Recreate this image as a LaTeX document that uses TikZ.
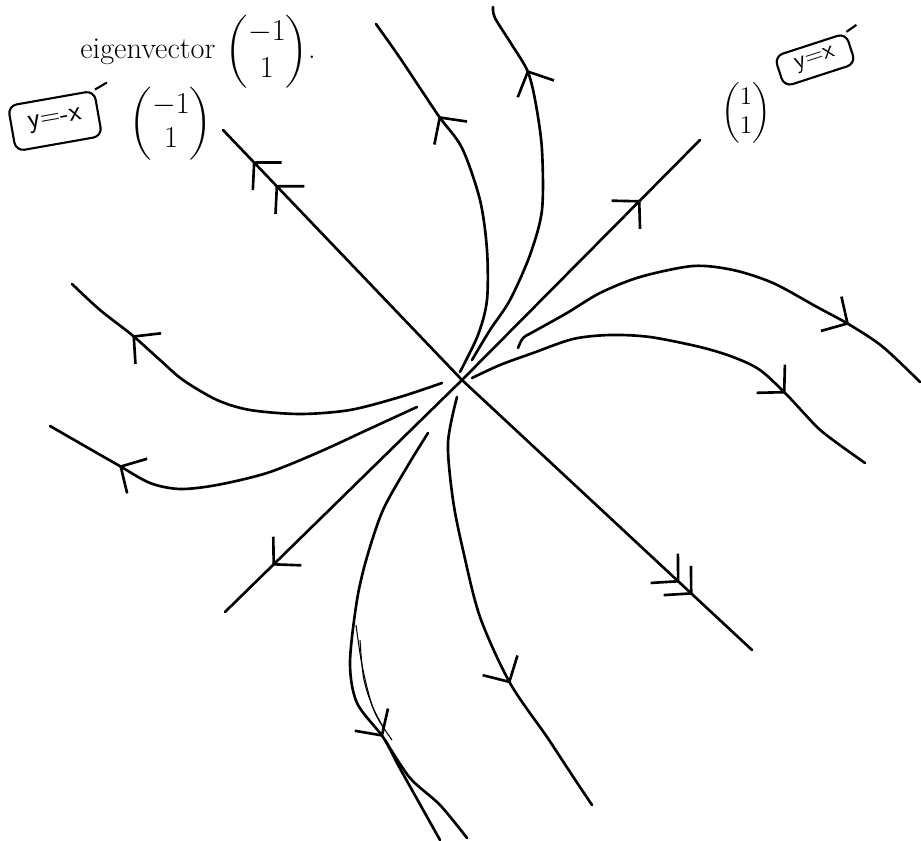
\documentclass[tikz,border=0pt]{standalone}
\usepackage{amsmath}
\usepackage{fontspec}
\usetikzlibrary{arrows.meta,decorations.markings}

\tikzset{barb/.tip={Straight Barb[length=3.8mm,width=8mm]}}

\begin{document}
\begin{tikzpicture}[x=0.02cm,y=-0.02cm,
  traj/.style={line width=1.5pt,line cap=round,line join=round},
  flow/.style={postaction=decorate,decoration={markings,
    mark=at position #1 with {\arrow{barb}}}},
  fastflow/.style 2 args={postaction=decorate,decoration={markings,
    mark=at position #1 with {\arrow{barb}},
    mark=at position #2 with {\arrow{barb}}}},
  tag/.style={draw,line width=1.2pt,rounded corners=5pt,inner sep=3pt,
    font=\sffamily\fontsize{16}{16}\selectfont},
  vec/.style={font=\fontsize{16}{19}\selectfont,inner sep=0pt}]

  \useasboundingbox (0,0) rectangle (921,841);

  \node[anchor=base west,inner sep=0pt,font=\fontsize{17.28}{21}\selectfont] (eig) at (80,59)
    {eigenvector\hspace{6pt}$\begin{pmatrix}-1\\1\end{pmatrix}$.};

  % eigenvector labels
  \node[tag,rotate=10,minimum width=1.75cm,minimum height=0.92cm] (negtag) at (55,121) {y=-x};
  \draw[line width=1.2pt] (negtag.north east) -- ++(12,-7);
  \node[vec] (negvec) at (171,124) {$\begin{pmatrix}-1\\1\end{pmatrix}$};
  \node[vec,font=\fontsize{14}{17}\selectfont] (posvec) at (746,113) {$\begin{pmatrix}1\\1\end{pmatrix}$};
  \node[tag,rotate=18,minimum width=1.5cm,minimum height=0.64cm,
    font=\sffamily\fontsize{14}{14}\selectfont] (postag) at (815,60) {y=x};
  \draw[line width=1.2pt] (postag.north east) -- ++(10,-7);

  \coordinate (O) at (462,380);

  % straight-line solutions
  \draw[traj,flow=0.75] (O) -- (700,140);
  \draw[traj,flow=0.8] (O) -- (225,612);
  \draw[traj,fastflow={0.78}{0.875}] (O) -- (223,130);
  \draw[traj,fastflow={0.75}{0.795}] (O) -- (752,650);

  % trajectories leaving the origin
  \draw[traj,flow=0.71] plot[smooth] coordinates {(460,372) (478,335) (487,300) (487,250)
    (480,200) (462,148) (438,115) (400,58) (376,24)};
  \draw[traj,flow=0.81] plot[smooth] coordinates {(472,360) (490,330) (510,300) (530,255)
    (542,210) (542,150) (536,105) (528,72) (512,45) (495,18) (493,7)};
  \draw[traj,flow=0.8] plot[smooth] coordinates {(518,348) (523,338) (533,332) (567,313)
    (600,293) (640,277) (693,266) (733,270) (773,283) (817,307) (850,325) (883,347) (920,382)};
  \draw[traj,flow=0.76] plot[smooth] coordinates {(472,378) (500,365) (533,353) (573,339)
    (610,335) (650,337) (700,347) (733,357) (760,370) (787,395) (817,427) (837,443) (865,463)};
  \draw[traj,flow=0.81] plot[smooth] coordinates {(442,383) (400,397) (350,410) (300,414)
    (250,410) (217,400) (183,380) (160,360) (132,335) (100,310) (72,284)};
  \draw[traj,flow=0.8] plot[smooth] coordinates {(417,407) (367,430) (317,453) (267,473)
    (217,485) (180,489) (150,483) (118,465) (83,445) (50,426)};
  \draw[traj,flow=0.737] plot[smooth] coordinates {(428,433) (407,467) (383,510) (367,557)
    (357,600) (350,663) (357,703) (383,737) (397,763) (412,790) (440,840)};
  \draw[traj] plot[smooth] coordinates {(385,740) (410,778) (440,805) (467,838)};
  \draw[line width=0.6pt] plot[smooth] coordinates {(360,640) (364,680) (376,715) (392,740)};
  \draw[line width=0.6pt] plot[smooth] coordinates {(356,625) (362,665) (372,705) (385,730)};
  \draw[traj,flow=0.67] plot[smooth] coordinates {(457,397) (448,443) (453,500) (463,550)
    (480,617) (510,683) (547,737) (570,772) (592,805)};
\end{tikzpicture}
\end{document}
